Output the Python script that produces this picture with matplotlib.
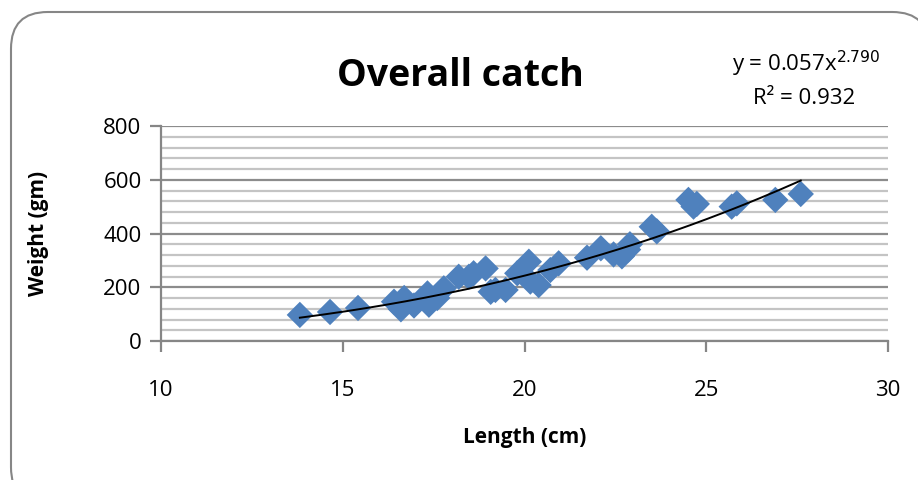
import numpy as np
import matplotlib.pyplot as plt
from matplotlib.patches import FancyBboxPatch

plt.rcParams['font.family'] = ['Open Sans', 'DejaVu Sans']

# fish length (cm) and weight (gm)
length = [13.82, 14.65, 15.42, 16.41, 16.6, 16.69, 16.96, 17.33, 17.37, 17.6,
          17.78, 18.19, 18.47, 18.6, 18.93, 19.07, 19.2, 19.48, 19.8, 20.12,
          20.16, 20.39, 20.71, 20.94, 21.72, 22.1, 22.45, 22.68, 22.85, 22.9,
          23.5, 23.64, 24.51, 24.65, 24.74, 25.7, 25.84, 26.9, 27.6]
weight = [97, 108, 123, 146, 118, 160, 132, 177, 135, 160,
          196, 239, 239, 252, 270, 183, 190, 190, 252, 295,
          221, 208, 264, 289, 310, 345, 322, 315, 340, 360,
          425, 408, 525, 500, 510, 500, 512, 525, 547]

# power trendline y = a * x^b
a, b = 0.057, 2.790
r2 = 0.932

fig = plt.figure(figsize=(9.18, 4.8), dpi=100, facecolor='white')
frame = FancyBboxPatch((11 / 918, -0.05), 1.0, 1.0 - 12 / 480 + 0.05,
                       boxstyle="round,pad=0,rounding_size=0.04",
                       transform=fig.transFigure, facecolor='white', zorder=0,
                       edgecolor='#868686', linewidth=1.5, mutation_aspect=918 / 480)
fig.patches.append(frame)

ax = fig.add_axes([161 / 918, (480 - 341) / 480, (888 - 161) / 918, (341 - 126) / 480])
ax.set_zorder(2)
ax.set_facecolor('none')

ax.set_xlim(10, 30)
ax.set_ylim(0, 800)
ax.set_xticks([10, 15, 20, 25, 30])
ax.set_yticks([0, 200, 400, 600, 800])
ax.set_yticks(np.arange(0, 801, 40), minor=True)

ax.grid(True, which='minor', axis='y', color='#c4c4c4', linewidth=1.6)
ax.grid(True, which='major', axis='y', color='#8c8c8c', linewidth=1.6)
ax.set_axisbelow(True)

for s in ['top', 'right']:
    ax.spines[s].set_visible(False)
for s in ['left', 'bottom']:
    ax.spines[s].set_color('#868686')
    ax.spines[s].set_linewidth(1.6)

ax.tick_params(axis='both', which='major', direction='out', length=8, width=1.6,
               color='#868686', labelsize=16, pad=6)
ax.tick_params(axis='x', which='major', pad=20)
ax.tick_params(axis='y', which='minor', length=0)

ax.scatter(length, weight, marker='D', s=180, color='#4f81bd', edgecolors='none', zorder=3)

xs = np.linspace(min(length), max(length), 200)
ax.plot(xs, a * xs ** b, color='black', linewidth=1.4, zorder=4)

ax.set_xlabel('Length (cm)', fontsize=15, fontweight='bold', labelpad=19)
ax.set_ylabel('Weight (gm)', fontsize=15, fontweight='bold', labelpad=39)

fig.text(460 / 918, 1 - 76 / 480, 'Overall catch', fontsize=27, fontweight='bold',
         ha='center', va='center')
fig.text(806 / 918, 1 - 64 / 480, 'y = 0.057x$^{2.790}$', fontsize=16,
         ha='center', va='center')
fig.text(804 / 918, 1 - 99 / 480, 'R² = 0.932', fontsize=16, ha='center', va='center')

fig.savefig('out.png', dpi=100, facecolor='white')
